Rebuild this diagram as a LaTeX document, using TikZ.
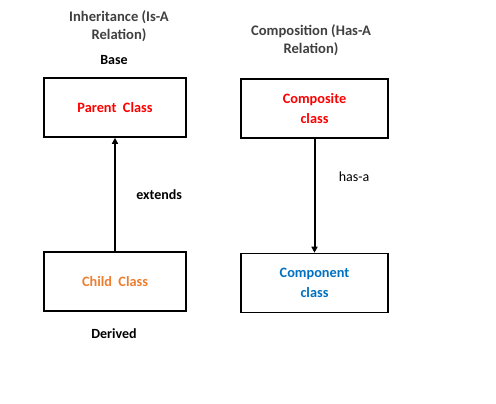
\documentclass[tikz,border=0pt]{standalone}
\usepackage{fontspec}
\setmainfont{Carlito}
\usepackage{xcolor}
\usetikzlibrary{arrows.meta}
\usetikzlibrary{positioning}
\definecolor{titlegrey}{HTML}{404040}
\definecolor{parentred}{HTML}{FF0000}
\definecolor{childorange}{HTML}{ED7D31}
\definecolor{componentblue}{HTML}{0070C0}

\begin{document}
\begin{tikzpicture}[x=1pt,y=-1pt,
		classbox/.style={draw, line width=1.6pt, minimum width=142pt, minimum height=59pt, align=center, font=\fontsize{14.3}{20.5}\selectfont\bfseries},
		title/.style={align=center, text=titlegrey, font=\fontsize{14.6}{18}\selectfont\bfseries},
		tag/.style={font=\fontsize{14}{15}\selectfont\bfseries},
		link/.style={line width=2pt, -{Triangle[length=6pt,width=6pt]}}]
			\useasboundingbox (0,0) rectangle (496,404);
			
			% inheritance
			\node[title] (inhtitle) at (119,26) {Inheritance (Is-A\\Relation)};
			\node[tag] (base) at (114,60) {Base};
			\node[classbox, text=parentred] (parent) at (115,107.5) {Parent\ \ Class};
			\node[classbox, text=childorange] (child) at (115,281.5) {Child\ \ Class};
			\node[tag] (derived) at (114,334) {Derived};
			\draw[link] (child) -- (parent) node[pos=0.5, right=17pt, tag] (extends) {extends};
			
			% composition
			\node[title] (comptitle) at (311,40) {Composition (Has-A\\Relation)};
			\node[classbox, minimum width=147pt, text=parentred] (composite) at (314.5,108.5) {Composite\\class};
			\node[classbox, minimum width=147pt, text=componentblue] (component) at (314.5,283) {Component\\class};
			\draw[link] (composite) -- (component) node[pos=0.33, right=20pt, font=\fontsize{14}{15}\selectfont] (hasa) {has-a};
			
		\end{tikzpicture}
\end{document}
